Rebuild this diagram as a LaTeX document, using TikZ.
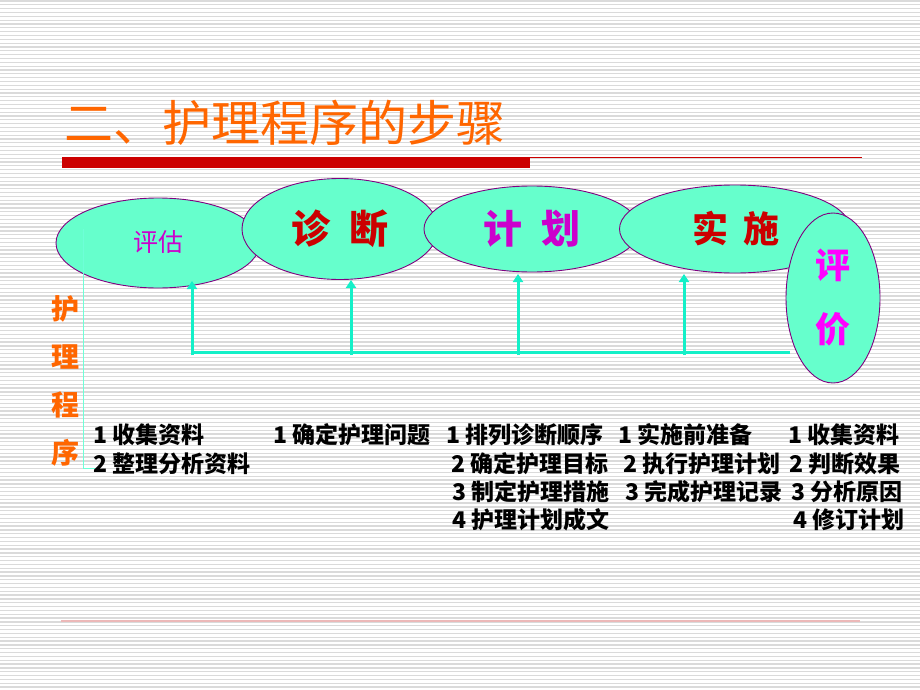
\documentclass[tikz,border=0pt]{standalone}
\usepackage{fontspec}
\setmainfont{Noto Sans CJK SC}
\usepackage{xcolor}
\usetikzlibrary{shapes.geometric,arrows.meta,positioning,calc}

\definecolor{titleorange}{RGB}{255,102,0}
\definecolor{barred}{RGB}{204,0,0}
\definecolor{phasefill}{RGB}{102,255,204}
\definecolor{phaseline}{RGB}{128,0,128}
\definecolor{flowcyan}{RGB}{20,240,200}
\definecolor{axiscyan}{RGB}{110,255,215}
\definecolor{stripegray}{RGB}{218,218,218}
\definecolor{plum}{RGB}{204,0,204}
\definecolor{brightmag}{RGB}{255,0,255}
\definecolor{footred}{RGB}{236,184,184}

\begin{document}
\begin{tikzpicture}[x=1pt,y=-1pt,
      phase/.style={draw=phaseline, fill=phasefill, ellipse, inner sep=0pt, line width=0.9pt},
      flow/.style={draw=flowcyan, line width=3pt},
      flowarrow/.style={flow, -{Triangle[width=10pt,length=8pt]}},
      item/.style={anchor=west, inner sep=0pt, font=\bfseries\fontsize{23}{23}\selectfont},
      stripe/.style={draw=stripegray, line width=1.3pt}
    ]
    \useasboundingbox (0,0) rectangle (920,690);
    \fill[white] (0,0) rectangle (920,690);
    \foreach \k in {0,...,180}
      \draw[stripe] (0,\k*3.833+1) -- (920,\k*3.833+1);

    % title and rules
    \node[anchor=west, inner sep=0pt, text=titleorange, font=\fontsize{49}{49}\selectfont] (title) at (64,123) {二、护理程序的步骤};
    \fill[barred] (62,157) rectangle (530,168);
    \draw[barred, line width=1.2pt] (530,157.5) -- (862,157.5);
    \draw[footred, line width=1.6pt] (61,621) -- (860,621);

    % the five steps
    \node[phase, minimum width=204, minimum height=90, text=plum, font=\fontsize{25}{25}\selectfont] (assess) at (158,243) {\raisebox{4pt}{评估}};
    \node[phase, minimum width=196, minimum height=101, text=barred, font=\bfseries\fontsize{39}{39}\selectfont] (diag) at (340,229) {诊\hspace{20pt}断};
    \node[phase, minimum width=216, minimum height=86, text=plum, font=\bfseries\fontsize{39}{39}\selectfont] (plan) at (532,229) {计\hspace{20pt}划};
    \node[phase, minimum width=231, minimum height=88, text=barred, font=\bfseries\fontsize{36}{36}\selectfont] (act) at (735,229) {\hspace{2pt}实\hspace{16pt}施};
    \node[phase, minimum width=94, minimum height=170, text=brightmag, align=center, font=\bfseries\fontsize{35}{64}\selectfont] (eval) at (833,298) {评\\价};

    % feedback lines
    \coordinate (b1) at (192,355);
    \coordinate (b2) at (351,355);
    \coordinate (b3) at (518,355);
    \coordinate (b4) at (684,355);
    \coordinate (left) at (192,352);
    \coordinate (right) at (790,352);
    \coordinate (t1) at (192,281);
    \coordinate (t2) at (351,280);
    \coordinate (t3) at (518,274);
    \coordinate (t4) at (684,274);
    \draw[flow] (left) -- (right);
    \draw[flowarrow] (b1) -- (t1);
    \draw[flowarrow] (b2) -- (t2);
    \draw[flowarrow] (b3) -- (t3);
    \draw[flowarrow] (b4) -- (t4);

    % side label
    \node[text=titleorange, align=center, inner sep=0pt, font=\bfseries\fontsize{28}{48}\selectfont] (side) at (65,381) {护\\理\\程\\序};
    \coordinate (axtop) at (83,229);
    \coordinate (axbot) at (83,468);
    \coordinate (axend) at (95,468);
    \draw[axiscyan, line width=1pt] (axtop) -- (axbot) -- (axend);

    % items
    \node[item] (a1) at (93,435) {1 收集资料};
    \node[item] (a2) at (93,463.5) {2 整理分析资料};
    \node[item] (d1) at (273,435) {1 确定护理问题};
    \node[item] (p1) at (446,435) {1 排列诊断顺序};
    \node[item] (p2) at (451,463.5) {2 确定护理目标};
    \node[item] (p3) at (452,492) {3 制定护理措施};
    \node[item] (p4) at (452,520) {4 护理计划成文};
    \node[item] (i1) at (618,435) {1 实施前准备};
    \node[item] (i2) at (623,463.5) {2 执行护理计划};
    \node[item] (i3) at (625,492) {3 完成护理记录};
    \node[item] (e1) at (788,435) {1 收集资料};
    \node[item] (e2) at (789,463.5) {2 判断效果};
    \node[item] (e3) at (791,492) {3 分析原因};
    \node[item] (e4) at (793,520) {4 修订计划};
  \end{tikzpicture}
\end{document}
